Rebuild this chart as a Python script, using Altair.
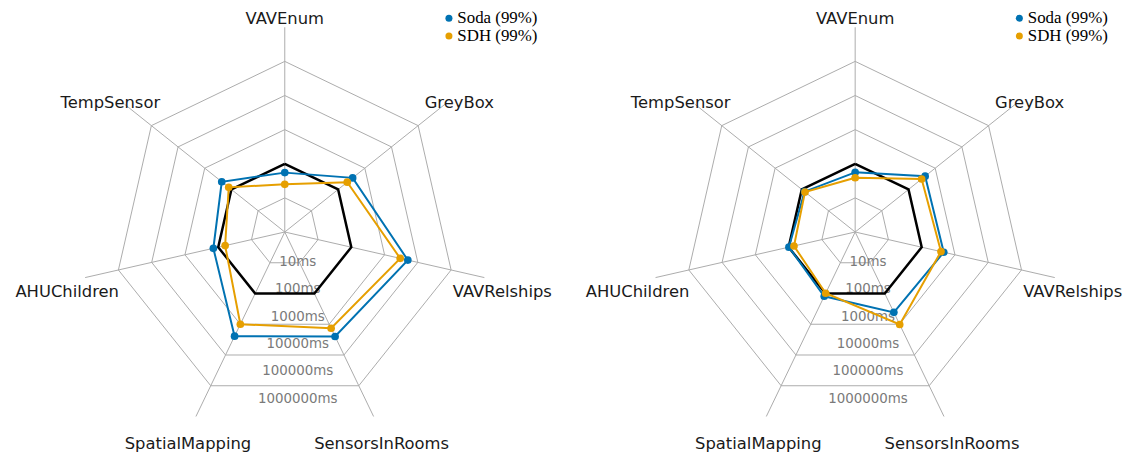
import altair as alt
import pandas as pd

# ---------------- data ----------------
axes = ["VAVEnum", "GreyBox", "VAVRelships", "SensorsInRooms",
        "SpatialMapping", "AHUChildren", "TempSensor"]
reference_ms = [100, 100, 100, 100, 100, 100, 100]

left_soda = [55, 350, 5000, 2500, 2450, 140, 230]
left_sdh = [25, 220, 2950, 1350, 1000, 62, 126]

right_soda = [56, 420, 460, 410, 123, 98, 79]
right_sdh = [39, 310, 380, 1020, 98, 69, 76]

series_names = ["Soda (99%)", "SDH (99%)"]
series_colors = ["#0072B2", "#E69F00"]

ring_values = [10, 100, 1000, 10000, 100000]
spoke_max = 1000000
tick_values = [10, 100, 1000, 10000, 100000, 1000000]
tick_labels = ["10ms", "100ms", "1000ms", "10000ms", "100000ms", "1000000ms"]

# ---------------- layout ----------------
K = 34.4          # pixels per decade
H = 451
CY = 224
N = len(axes)

color_scale = alt.Scale(domain=series_names, range=series_colors)


def series_frame(name, vals):
    return pd.DataFrame({"series": name,
                         "idx": list(range(N + 1)),
                         "value": [vals[j % N] for j in range(N + 1)]})


def polar(chart, rfield="value"):
    return chart.transform_calculate(
        theta=f"2*PI*datum.idx/{N}",
        r=f"log(datum.{rfield})/LN10",
    ).transform_calculate(
        px="datum.r*sin(datum.theta)",
        py="datum.r*cos(datum.theta)",
    )


def panel(soda, sdh, W, CX):
    xs = alt.Scale(domain=[-CX / K, (W - CX) / K], nice=False, zero=False)
    ys = alt.Scale(domain=[-(H - CY) / K, CY / K], nice=False, zero=False)
    X = alt.X("px:Q", scale=xs, axis=None)
    Y = alt.Y("py:Q", scale=ys, axis=None)

    # grid rings
    ring_df = pd.DataFrame([{"level": lv, "idx": j, "value": lv}
                            for lv in ring_values for j in range(N + 1)])
    rings = polar(alt.Chart(ring_df)).mark_line(
        color="#ababab", strokeWidth=1).encode(
        x=X, y=Y, detail="level:N", order="idx:Q")

    # spokes
    spoke_df = pd.DataFrame({"axis": axes, "idx": list(range(N)),
                             "value": [spoke_max] * N})
    spokes = polar(alt.Chart(spoke_df)).transform_calculate(
        x0="0", y0="0").mark_rule(color="#ababab", strokeWidth=1).encode(
        x=alt.X("x0:Q", scale=xs, axis=None),
        y=alt.Y("y0:Q", scale=ys, axis=None),
        x2="px:Q", y2="py:Q")

    # axis labels
    lab_df = pd.DataFrame({"axis": axes, "idx": list(range(N))})
    labels = alt.Chart(lab_df).transform_calculate(
        theta=f"2*PI*datum.idx/{N}").transform_calculate(
        px="6.54*sin(datum.theta)", py="6.54*cos(datum.theta)").mark_text(
        font="DejaVu Sans", fontSize=16.5, color="#1a1a1a",
        align="center", baseline="alphabetic", dy=15.6).encode(
        x=X, y=Y, text="axis:N")

    # tick labels
    tick_df = pd.DataFrame({"value": tick_values, "label": tick_labels})
    ticks = alt.Chart(tick_df).transform_calculate(
        r="log(datum.value)/LN10").transform_calculate(
        px=f"{13 / K}", py="-(0.8*datum.r+0.2)").mark_text(
        font="DejaVu Sans", fontSize=13.5, color="#7a7a7a",
        align="center", baseline="alphabetic").encode(
        x=X, y=Y, text="label:N")

    # reference polygon
    ref = polar(alt.Chart(series_frame("Reference", reference_ms))).mark_line(
        color="black", strokeWidth=2.5).encode(x=X, y=Y, order="idx:Q")

    layers = [rings, spokes, ticks, labels, ref]
    for name, vals in zip(series_names, [soda, sdh]):
        d = series_frame(name, vals)
        line = polar(alt.Chart(d)).mark_line(strokeWidth=2).encode(
            x=X, y=Y, order="idx:Q",
            stroke=alt.Stroke("series:N", scale=color_scale, legend=None))
        pts = polar(alt.Chart(d)).transform_filter(
            f"datum.idx < {N}").mark_circle(size=60, opacity=1).encode(
            x=X, y=Y,
            fill=alt.Fill("series:N", scale=color_scale,
                          legend=alt.Legend(
                              title=None, orient="none",
                              legendX=CX + 157, legendY=0,
                              symbolType="circle", symbolSize=50,
                              labelFont="Liberation Serif", labelFontSize=17,
                              labelColor="black", labelOffset=0,
                              padding=0, rowPadding=0)))
        layers += [line, pts]

    return alt.layer(*layers).properties(width=W, height=H)


left = panel(left_soda, left_sdh, 565, 279)
right = panel(right_soda, right_sdh, 558, 289)

chart = alt.hconcat(left, right, spacing=0, bounds="flush").resolve_legend(
    fill="independent").properties(padding=0).configure_view(stroke=None)

chart.save("out.html", embed_options={"renderer": "svg", "actions": False})
